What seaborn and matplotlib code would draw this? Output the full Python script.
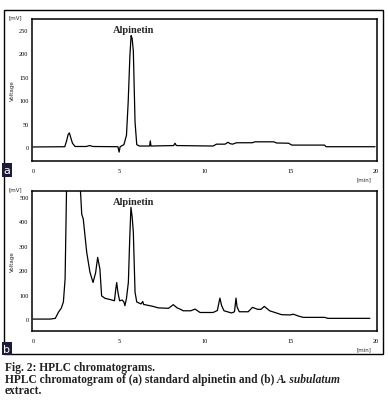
"""
HPLC chromatograms of standard alpinetin (a) and A. subulatum extract (b).
Traces digitised by eye from the published figure.
"""

import matplotlib
matplotlib.use("Agg")

import matplotlib.pyplot as plt
import matplotlib.patches as mpatches
import seaborn as sns
import pandas as pd


# ============================================================================
# Data - retention time (min) and detector response (mV)
# ============================================================================

std_time = [0.0, 1.85, 1.95, 2.05, 2.12, 2.2, 2.3, 2.45, 3.1, 3.3, 3.5,
            4.95, 5.02, 5.08, 5.3, 5.45, 5.55, 5.65, 5.72, 5.78, 5.85,
            5.95, 6.05, 6.2, 6.8, 6.84, 6.88, 8.2, 8.28, 8.36, 10.5,
            10.7, 11.2, 11.37, 11.5, 11.64, 11.87, 12.8, 12.94, 14.05,
            14.2, 14.9, 15.1, 17.0, 17.1, 19.95]
std_signal = [0.0, 0.5, 12, 27, 30, 20, 8, 1, 1, 3, 1,
              0.5, -11, 0.5, 5, 25, 96, 195, 238, 232, 205,
              53, 5, 2, 2, 13, 2, 3, 8, 3, 2,
              6, 6, 10, 7, 6, 9, 9, 11, 11,
              8.5, 8, 4, 4, 0.5, 0.5]

ext_time = [0.0, 1.0, 1.3, 1.48, 1.65, 1.77, 1.87, 1.96, 2.2, 2.5,
            2.74, 2.84, 2.93, 3.13, 3.32, 3.5, 3.65, 3.77, 3.9, 4.0,
            4.2, 4.5, 4.75, 4.82, 4.88, 4.95, 5.05, 5.2, 5.3, 5.36,
            5.45, 5.56, 5.64, 5.71, 5.78, 5.85, 5.95, 6.05, 6.3, 6.4,
            6.45, 7.0, 7.3, 7.9, 8.18, 8.4, 8.57, 8.76, 9.2, 9.45,
            9.74, 10.5, 10.75, 10.9, 11.0, 11.14, 11.58, 11.75, 11.84,
            11.9, 12.03, 12.55, 12.8, 13.1, 13.3, 13.49, 13.8, 14.5,
            15.0, 15.18, 15.5, 15.76, 17.0, 17.2, 19.65]
ext_signal = [0, 0, 3, 28, 45, 70, 164, 560, 1200, 1100,
              560, 430, 410, 274, 192, 150, 190, 253, 205, 95,
              85, 80, 75, 120, 150, 110, 75, 78, 70, 55,
              85, 150, 330, 458, 420, 356, 110, 70, 62, 72,
              60, 52, 46, 44, 59, 46, 41, 34, 34, 41,
              27, 27, 35, 86, 55, 34, 25, 30, 86,
              50, 30, 30, 48, 40, 40, 52, 34, 18,
              17, 20, 12, 7, 7, 3, 3]

std_ticks = [0, 50, 100, 150, 200, 250]
ext_ticks = [0, 100, 200, 300, 400, 500]
time_ticks = [0, 5, 10, 15, 20]


# ============================================================================
# Figure Settings
# ============================================================================

sns.set_style("white")
plt.rcParams["font.family"] = ["Liberation Serif", "DejaVu Serif"]

fig = plt.figure(figsize=(3.88, 4.14), dpi=100)

std_df = pd.DataFrame({"time": std_time, "signal": std_signal})
ext_df = pd.DataFrame({"time": ext_time, "signal": ext_signal})

panels = [
    (std_df, [0.0825, 0.6087, 0.889, 0.343], (-30, 273.5), std_ticks),
    (ext_df, [0.0825, 0.198, 0.889, 0.338], (-49, 524.6), ext_ticks),
]

for data, rect, ylim, yticks in panels:
    ax = fig.add_axes(rect)
    sns.lineplot(data=data, x="time", y="signal", ax=ax, color="black",
                 linewidth=0.9, estimator=None, sort=False)
    ax.set_xlim(-0.06, 20.06)
    ax.set_ylim(*ylim)
    ax.set_xticks(time_ticks)
    ax.set_yticks(yticks)
    ax.tick_params(axis="both", labelsize=4.5, length=1.5, width=0.6,
                   pad=1, direction="out", colors="black")
    ax.tick_params(axis="x", length=0, pad=5)
    for spine in ax.spines.values():
        spine.set_linewidth(1.1)
        spine.set_color("black")
    ax.set_xlabel("")
    ax.set_ylabel("Voltage", fontsize=4, labelpad=3,
                  family=["DejaVu Sans"])
    ax.text(-0.03, 1.0, "[mV]", transform=ax.transAxes, fontsize=4,
            ha="right", va="bottom", family=["DejaVu Sans"])
    ax.text(0.985, -0.11, "[min]", transform=ax.transAxes, fontsize=4,
            ha="right", va="top", family=["DejaVu Sans"])
    ax.text(0.295, 0.96, "Alpinetin", transform=ax.transAxes, fontsize=7.5,
            fontweight="bold", ha="center", va="top")


# ============================================================================
# Frame, Panel Letters and Caption
# ============================================================================

frame = mpatches.Rectangle((0.0103, 0.1425), 0.977, 0.831,
                           transform=fig.transFigure, fill=False,
                           edgecolor="black", linewidth=1.0)
fig.patches.append(frame)

for letter, ypos in [("a", 0.575), ("b", 0.1435)]:
    fig.text(0.0175, ypos, letter, fontsize=8, color="white",
             family=["DejaVu Sans"], ha="center", va="bottom",
             bbox=dict(boxstyle="square,pad=0.15", facecolor="#1c1c3a",
                       edgecolor="none"))

cap_kw = dict(fontsize=8.3, fontweight="bold", color="#222222",
              va="baseline")
fig.text(0.012, 0.103, "Fig. 2: HPLC chromatograms.", **cap_kw)
line2 = fig.text(0.012, 0.0756,
                 "HPLC chromatogram of (a) standard alpinetin and (b) ",
                 **cap_kw)
fig.text(0.012, 0.048, "extract.", **cap_kw)

# italic species name placed right after the plain part of line 2
species = plt.Annotation("A. subulatum", xy=(1, 0), xycoords=line2,
                         ha="left", va="bottom", fontsize=8.3,
                         fontweight="bold", fontstyle="italic",
                         color="#222222")
fig.add_artist(species)

fig.savefig("out.png", dpi=100)
